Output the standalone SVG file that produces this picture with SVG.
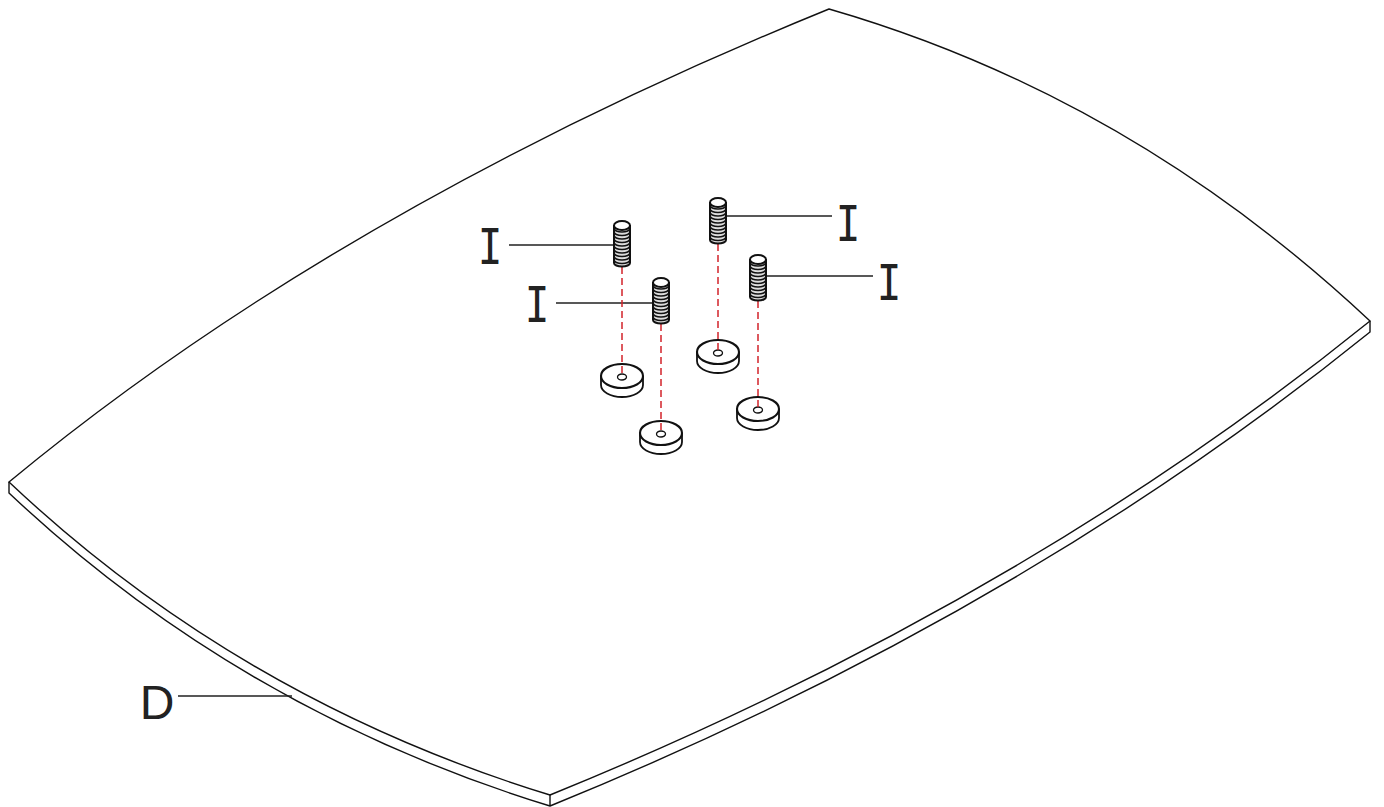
<svg xmlns="http://www.w3.org/2000/svg" width="1384" height="807" viewBox="0 0 1384 807">
<style>
.e{fill:none;stroke:#111;stroke-width:1.4}
.l{fill:none;stroke:#222;stroke-width:1.5}
.d{fill:none;stroke:#d2232a;stroke-width:1.5;stroke-dasharray:7 4}
.t{font-family:"DejaVu Sans Mono",monospace;font-size:50px;fill:#222;text-anchor:middle}
.k{font-family:"Liberation Sans",sans-serif;font-size:48px;fill:#222;text-anchor:middle}
.w{fill:#fff;stroke:#111;stroke-width:1.8}
.th{fill:none;stroke:#111;stroke-width:1.7}
</style>
<defs>
<g id="screw">
<path d="M-8,4V42A8,3.500 0 0 0 8,42V4" fill="#ddd" stroke="#111" stroke-width="2"/>
<path class="th" d="M-8,7.500a8,3.500 0 0 0 16,0M-8,11a8,3.500 0 0 0 16,0M-8,14.500a8,3.500 0 0 0 16,0M-8,18a8,3.500 0 0 0 16,0M-8,21.500a8,3.500 0 0 0 16,0M-8,25a8,3.500 0 0 0 16,0M-8,28.500a8,3.500 0 0 0 16,0M-8,32a8,3.500 0 0 0 16,0M-8,35.500a8,3.500 0 0 0 16,0M-8,39a8,3.500 0 0 0 16,0"/>
<ellipse cx="0" cy="4.500" rx="8" ry="4.500" fill="#fff" stroke="#111" stroke-width="2"/>
</g>
<g id="washer">
<path class="w" d="M-21,0V9A21,12 0 0 0 21,9V0"/>
<ellipse class="w" cx="0" cy="0" rx="21" ry="12" style="stroke-width:2.100"/>
<ellipse class="w" cx="0" cy="1" rx="4.500" ry="3" style="stroke-width:1.300"/>
</g>
</defs>
<g id="tabletop">
<path id="top" class="e" d="M9,482Q340,208 829,9Q1130,96 1370,321Q1020,604 550,795Q240,700 9,482Z"/>
<path class="e" d="M9,482V493Q240,711 550,806Q1020,615 1370,332V321M550,795V806"/>
</g>
<g id="washer-1"><use href="#washer" x="622" y="376"/></g>
<g id="washer-2"><use href="#washer" x="661" y="433"/></g>
<g id="washer-3"><use href="#washer" x="718" y="352"/></g>
<g id="washer-4"><use href="#washer" x="758" y="409"/></g>
<g id="connectors">
<path class="l" d="M509,245H613M556,303H653M726,216H832M766,276H873M178,696H292"/>
<path class="d" d="M622,267V376M661,324V433M718,244V352M758,301V409"/>
</g>
<g id="screw-1"><use href="#screw" x="622" y="221"/></g>
<g id="screw-2"><use href="#screw" x="661" y="278"/></g>
<g id="screw-3"><use href="#screw" x="718" y="198"/></g>
<g id="screw-4"><use href="#screw" x="758" y="255"/></g>
<g id="labels">
<text class="t" transform="translate(490,264) scale(.82,1)">I</text>
<text class="t" transform="translate(537,322) scale(.82,1)">I</text>
<text class="t" transform="translate(848,241) scale(.82,1)">I</text>
<text class="t" transform="translate(889,300) scale(.82,1)">I</text>
<text class="k" x="157" y="719">D</text>
</g>
</svg>
